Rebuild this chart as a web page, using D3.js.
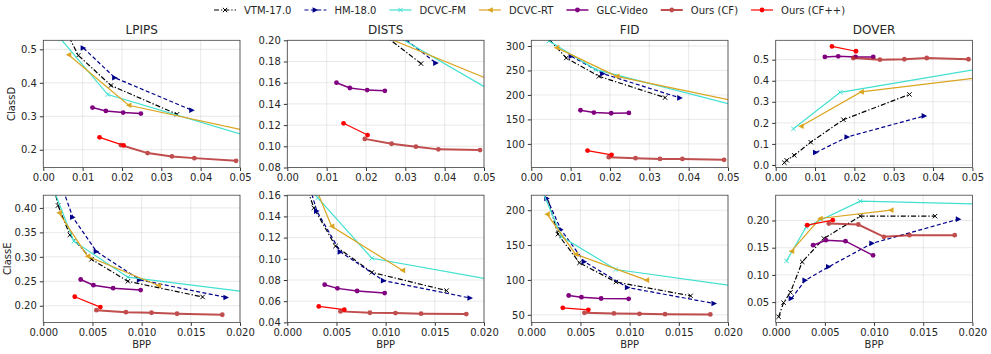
<!DOCTYPE html>
<html>
<head>
<meta charset="utf-8">
<script src="https://cdn.jsdelivr.net/npm/d3@7"></script>
<style>
  body { margin: 0; background: #fff; }
  text { font-family: "DejaVu Sans", sans-serif; fill: #262626; }
</style>
</head>
<body>
<script>
// ---- data ----
const methodKeys = ["vtm", "hm", "fm", "rt", "glc", "cf", "cfpp"];
const methodNames = ["VTM-17.0", "HM-18.0", "DCVC-FM", "DCVC-RT", "GLC-Video", "Ours (CF)", "Ours (CF++)"];

// ClassD rates
const bppD = {
  vtm: [0.0022, 0.0028, 0.0047, 0.0089, 0.0172, 0.0340],
  hm: [0.0102, 0.0182, 0.0378],
  fm: [0.0045, 0.0164, 0.0700],
  rt: [0.0064, 0.0217, 0.0700],
  glc: [0.0125, 0.0159, 0.0203, 0.0248],
  cf: [0.0197, 0.0265, 0.0327, 0.0384, 0.0490],
  cfpp: [0.0143, 0.0204]
};
const lpipsD = {
  vtm: [0.68, 0.64, 0.58, 0.482, 0.392, 0.306],
  hm: [0.504, 0.415, 0.318],
  fm: [0.53, 0.365, 0.178],
  rt: [0.484, 0.333, 0.210],
  glc: [0.326, 0.316, 0.311, 0.308],
  cf: [0.214, 0.190, 0.180, 0.175, 0.167],
  cfpp: [0.237, 0.213]
};
const distsD = {
  vtm: [0.35, 0.33, 0.30, 0.26, 0.226, 0.178],
  hm: [0.27, 0.235, 0.1785],
  fm: [0.27, 0.2286, 0.1134],
  rt: [0.24, 0.208, 0.1346],
  glc: [0.160, 0.155, 0.153, 0.1523],
  cf: [0.107, 0.1024, 0.0996, 0.0971, 0.0964],
  cfpp: [0.1217, 0.1106]
};
const fidD = {
  vtm: [350, 340, 312, 275.5, 238, 194.5],
  hm: [279, 243.5, 194],
  fm: [310, 251.7, 141],
  rt: [296.6, 238, 156.6],
  glc: [168.7, 164, 162.6, 163.3],
  cf: [72.8, 70.8, 69.4, 69.4, 67.4],
  cfpp: [86.4, 77.6]
};
const doverD = {
  vtm: [0.011, 0.022, 0.046, 0.108, 0.215, 0.335],
  hm: [0.059, 0.133, 0.233],
  fm: [0.172, 0.345, 0.515],
  rt: [0.184, 0.347, 0.456],
  glc: [0.513, 0.516, 0.513, 0.513],
  cf: [0.508, 0.500, 0.502, 0.508, 0.502],
  cfpp: [0.563, 0.540]
};

// ClassE rates
const bppE = {
  vtm: [0.0003, 0.0008, 0.0015, 0.0027, 0.0049, 0.0086, 0.0162],
  hm: [0.0016, 0.0030, 0.0054, 0.0098, 0.0186],
  fm: [0.0011, 0.0031, 0.0086, 0.0300],
  rt: [0.0016, 0.0045, 0.0117],
  glc: [0.0038, 0.0051, 0.0071, 0.0099],
  cf: [0.0054, 0.0084, 0.0110, 0.0136, 0.0182],
  cfpp: [0.0032, 0.0058]
};
const lpipsE = {
  vtm: [0.55, 0.47, 0.405, 0.345, 0.295, 0.250, 0.218],
  hm: [0.46, 0.381, 0.311, 0.253, 0.217],
  fm: [0.435, 0.332, 0.2585, 0.205],
  rt: [0.390, 0.301, 0.2415],
  glc: [0.2537, 0.242, 0.236, 0.232],
  cf: [0.191, 0.187, 0.1857, 0.1837, 0.1816],
  cfpp: [0.2184, 0.1973]
};
const distsE = {
  vtm: [0.25, 0.21, 0.18, 0.148, 0.112, 0.0872, 0.070],
  hm: [0.19, 0.145, 0.1065, 0.0794, 0.063],
  fm: [0.18, 0.1575, 0.1005, 0.065],
  rt: [0.196, 0.1307, 0.0891],
  glc: [0.0756, 0.0721, 0.0696, 0.0677],
  cf: [0.0504, 0.0491, 0.0488, 0.0482, 0.0479],
  cfpp: [0.0551, 0.0520]
};
const fidE = {
  vtm: [330, 280, 225, 165.6, 124.5, 97, 77.2],
  hm: [216.7, 172.3, 126, 89.1, 66.2],
  fm: [228, 161.8, 115, 73.1],
  rt: [194.3, 136.9, 99.7],
  glc: [77.7, 75.3, 73.4, 72.9],
  cf: [52.8, 51.9, 51.4, 50.9, 50.5],
  cfpp: [60, 57.1]
};
const doverE = {
  vtm: [0.023, 0.049, 0.068, 0.124, 0.167, 0.208, 0.208],
  hm: [0.0566, 0.090, 0.115, 0.158, 0.2025],
  fm: [0.1257, 0.188, 0.2355, 0.2263],
  rt: [0.1436, 0.2037, 0.219],
  glc: [0.1546, 0.1638, 0.162, 0.136],
  cf: [0.1945, 0.1926, 0.170, 0.173, 0.173],
  cfpp: [0.1914, 0.2006]
};

const xTicksD = [0, 0.01, 0.02, 0.03, 0.04, 0.05];
const xTicksE = [0, 0.005, 0.01, 0.015, 0.02];

// ---- styles ----
const styles = {
  vtm: { color: "#000000", dash: "5,2,1.3,2", width: 1.2, marker: "x" },
  hm: { color: "#00008b", dash: "4,2.4", width: 1.2, marker: "tright" },
  fm: { color: "#40e0d0", dash: null, width: 1.2, marker: "x" },
  rt: { color: "#daa520", dash: null, width: 1.2, marker: "tleft" },
  glc: { color: "#800080", dash: null, width: 1.5, marker: "o" },
  cf: { color: "#b22222", dash: null, width: 2, marker: "o", opacity: 0.8 },
  cfpp: { color: "#ff0000", dash: null, width: 1.2, marker: "o" }
};

const panels = [
  { row: 0, col: 0, title: "LPIPS", ylabel: "ClassD", bpp: bppD, vals: lpipsD, ylim: [0.147, 0.527], yticks: [0.2, 0.3, 0.4, 0.5], yfmt: ".1f" },
  { row: 0, col: 1, title: "DISTS", bpp: bppD, vals: distsD, ylim: [0.08, 0.20], yticks: [0.08, 0.10, 0.12, 0.14, 0.16, 0.18, 0.20], yfmt: ".2f" },
  { row: 0, col: 2, title: "FID", bpp: bppD, vals: fidD, ylim: [51.8, 311.6], yticks: [100, 150, 200, 250, 300], yfmt: "d" },
  { row: 0, col: 3, title: "DOVER", bpp: bppD, vals: doverD, ylim: [-0.012, 0.592], yticks: [0, 0.1, 0.2, 0.3, 0.4, 0.5], yfmt: ".1f" },
  { row: 1, col: 0, ylabel: "ClassE", bpp: bppE, vals: lpipsE, ylim: [0.166, 0.426], yticks: [0.20, 0.25, 0.30, 0.35, 0.40], yfmt: ".2f" },
  { row: 1, col: 1, bpp: bppE, vals: distsE, ylim: [0.04, 0.16], yticks: [0.04, 0.06, 0.08, 0.10, 0.12, 0.14, 0.16], yfmt: ".2f" },
  { row: 1, col: 2, bpp: bppE, vals: fidE, ylim: [39.1, 221.5], yticks: [50, 100, 150, 200], yfmt: "d" },
  { row: 1, col: 3, bpp: bppE, vals: doverE, ylim: [0.0127, 0.2465], yticks: [0.05, 0.10, 0.15, 0.20], yfmt: ".2f" }
];

// ---- layout ----
const width = 991, height = 354;
const colLeft = [43.3, 287.3, 531.3, 775.7];
const rowTop = [40.3, 195.2];
const pw = 196.7, ph = 127.2;

const svg = d3.select("body").append("svg")
  .attr("width", width)
  .attr("height", height);

function drawMarker(g, type, x, y, color) {
  if (type === "o") {
    g.append("circle").attr("cx", x).attr("cy", y).attr("r", 2.4).attr("fill", color);
  } else if (type === "x") {
    let s = 2.2;
    g.append("path")
      .attr("d", `M${x - s},${y - s}L${x + s},${y + s}M${x - s},${y + s}L${x + s},${y - s}`)
      .attr("stroke", color).attr("stroke-width", 1).attr("fill", "none");
  } else {
    let s = 2.8;
    let d = type === "tright"
      ? `M${x + s},${y}L${x - s},${y - s}L${x - s},${y + s}Z`
      : `M${x - s},${y}L${x + s},${y - s}L${x + s},${y + s}Z`;
    g.append("path").attr("d", d).attr("fill", color);
  }
}

panels.forEach((p, i) => {
  let x0 = colLeft[p.col], y0 = rowTop[p.row];
  let g = svg.append("g").attr("transform", `translate(${x0},${y0})`);
  let x = d3.scaleLinear().domain(p.row === 0 ? [0, 0.05] : [0, 0.02]).range([0, pw]);
  let y = d3.scaleLinear().domain(p.ylim).range([ph, 0]);
  let xticks = p.row === 0 ? xTicksD : xTicksE;

  // grid
  g.selectAll(".gx").data(xticks).enter().append("line")
    .attr("x1", d => x(d)).attr("x2", d => x(d)).attr("y1", 0).attr("y2", ph)
    .attr("stroke", "#b0b0b0").attr("stroke-opacity", 0.35).attr("stroke-width", 0.8);
  g.selectAll(".gy").data(p.yticks).enter().append("line")
    .attr("y1", d => y(d)).attr("y2", d => y(d)).attr("x1", 0).attr("x2", pw)
    .attr("stroke", "#b0b0b0").attr("stroke-opacity", 0.35).attr("stroke-width", 0.8);

  // clip
  let clipId = "clip" + i;
  g.append("clipPath").attr("id", clipId)
    .append("rect").attr("width", pw).attr("height", ph);
  let plot = g.append("g").attr("clip-path", `url(#${clipId})`);

  let line = d3.line().x(d => x(d[0])).y(d => y(d[1]));

  methodKeys.forEach(k => {
    let st = styles[k];
    let pts = p.bpp[k].map((b, j) => [b, p.vals[k][j]]);
    let sg = plot.append("g").attr("opacity", st.opacity || 1);
    sg.append("path")
      .attr("d", line(pts))
      .attr("fill", "none")
      .attr("stroke", st.color)
      .attr("stroke-width", st.width)
      .attr("stroke-dasharray", st.dash);
    pts.forEach(d => drawMarker(sg, st.marker, x(d[0]), y(d[1]), st.color));
  });

  // axes
  let xAxis = d3.axisBottom(x).tickValues(xticks)
    .tickFormat(d3.format(p.row === 0 ? ".2f" : ".3f")).tickSize(3.5).tickPadding(3);
  let yAxis = d3.axisLeft(y).tickValues(p.yticks)
    .tickFormat(d3.format(p.yfmt)).tickSize(3.5).tickPadding(3);
  let gx = g.append("g").attr("transform", `translate(0,${ph})`).call(xAxis);
  let gy = g.append("g").call(yAxis);
  [gx, gy].forEach(a => {
    a.select(".domain").remove();
    a.selectAll("line").attr("stroke", "#333");
    a.selectAll("text").style("font-size", "10px").style("font-family", "DejaVu Sans").attr("fill", "#262626");
  });

  g.append("rect").attr("width", pw).attr("height", ph)
    .attr("fill", "none").attr("stroke", "#444").attr("stroke-width", 0.8);

  if (p.title) {
    g.append("text").attr("x", pw / 2).attr("y", -6)
      .attr("text-anchor", "middle").style("font-size", "12px").text(p.title);
  }
  if (p.ylabel) {
    // ClassE sits a bit further left, its tick labels are wider
    let off = p.row === 0 ? -28 : -32;
    g.append("text")
      .attr("transform", `translate(${off},${ph / 2}) rotate(-90)`)
      .attr("text-anchor", "middle").style("font-size", "10px").text(p.ylabel);
  }
  if (p.row === 1) {
    g.append("text").attr("x", pw / 2).attr("y", ph + 26)
      .attr("text-anchor", "middle").style("font-size", "10px").text("BPP");
  }
});

// ---- legend ----
const leg = svg.append("g").attr("transform", "translate(0,10)");
let lx = 214;
methodKeys.forEach((k, i) => {
  let st = styles[k];
  let item = leg.append("g").attr("opacity", st.opacity || 1);
  item.append("line")
    .attr("x1", lx).attr("x2", lx + 22).attr("y1", 0).attr("y2", 0)
    .attr("stroke", st.color).attr("stroke-width", st.width)
    .attr("stroke-dasharray", st.dash);
  drawMarker(item, st.marker, lx + 11, 0, st.color);
  let t = leg.append("text").attr("x", lx + 30).attr("y", 3.6)
    .style("font-size", "10px").text(methodNames[i]);
  lx += 30 + t.node().getComputedTextLength() + 13;
});
</script>
</body>
</html>
